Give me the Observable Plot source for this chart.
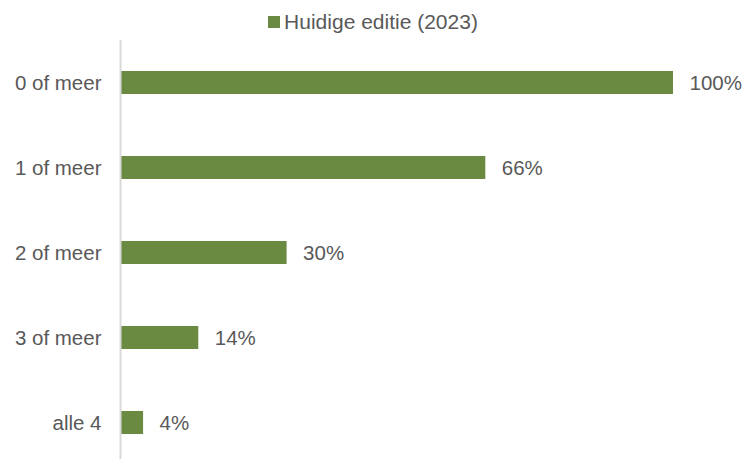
<!DOCTYPE html>
<html>
<head>
<meta charset="utf-8">
<script src="https://cdn.jsdelivr.net/npm/d3@7"></script>
<script src="https://cdn.jsdelivr.net/npm/@observablehq/plot@0.6"></script>
<style>
  html, body { margin: 0; padding: 0; background: #fff; }
  body { width: 746px; height: 459px; overflow: hidden; font-family: "Liberation Sans", Arial, sans-serif; }
  #legend { height: 40px; box-sizing: border-box; padding-top: 4px; display: flex; justify-content: center; align-items: center; color: #595959; font-size: 21px; }
  #legend .sw { width: 12px; height: 12px; background: #6a8a42; margin-right: 4px; }
  svg { display: block; }
</style>
</head>
<body>
<div id="legend"><span class="sw"></span><span>Huidige editie (2023)</span></div>
<div id="chart"></div>
<script>
const seriesName = "Huidige editie (2023)";
const categories = ["0 of meer", "1 of meer", "2 of meer", "3 of meer", "alle 4"];
const values = [100, 66, 30, 14, 4];

const data = categories.map((c, i) => ({category: c, value: values[i]}));
const green = "#6a8a42";
const textColor = "#595959";

const chart = Plot.plot({
  width: 746,
  height: 419,
  marginLeft: 121,
  marginRight: 73,
  marginTop: 0,
  marginBottom: 0,
  style: {fontFamily: "Liberation Sans, Arial, sans-serif", fontSize: "20.5px", color: textColor, background: "#fff"},
  x: {domain: [0, 100], axis: null},
  y: {domain: categories, paddingInner: 0.73, paddingOuter: 0.3226, align: 0.5545, label: null},
  marks: [
    Plot.barX(data, {y: "category", x: "value", fill: green}),
    Plot.ruleX([0], {stroke: "#d9d9d9", strokeWidth: 2, dx: -1}),
    Plot.text(data, {y: "category", x: "value", text: d => d.value + "%", textAnchor: "start", dx: 16, fill: textColor, fontSize: 20.5}),
    Plot.axisY({tickSize: 0, tickPadding: 20, label: null, fontSize: 20.5, fill: textColor})
  ]
});
document.getElementById("chart").appendChild(chart);
</script>
</body>
</html>
